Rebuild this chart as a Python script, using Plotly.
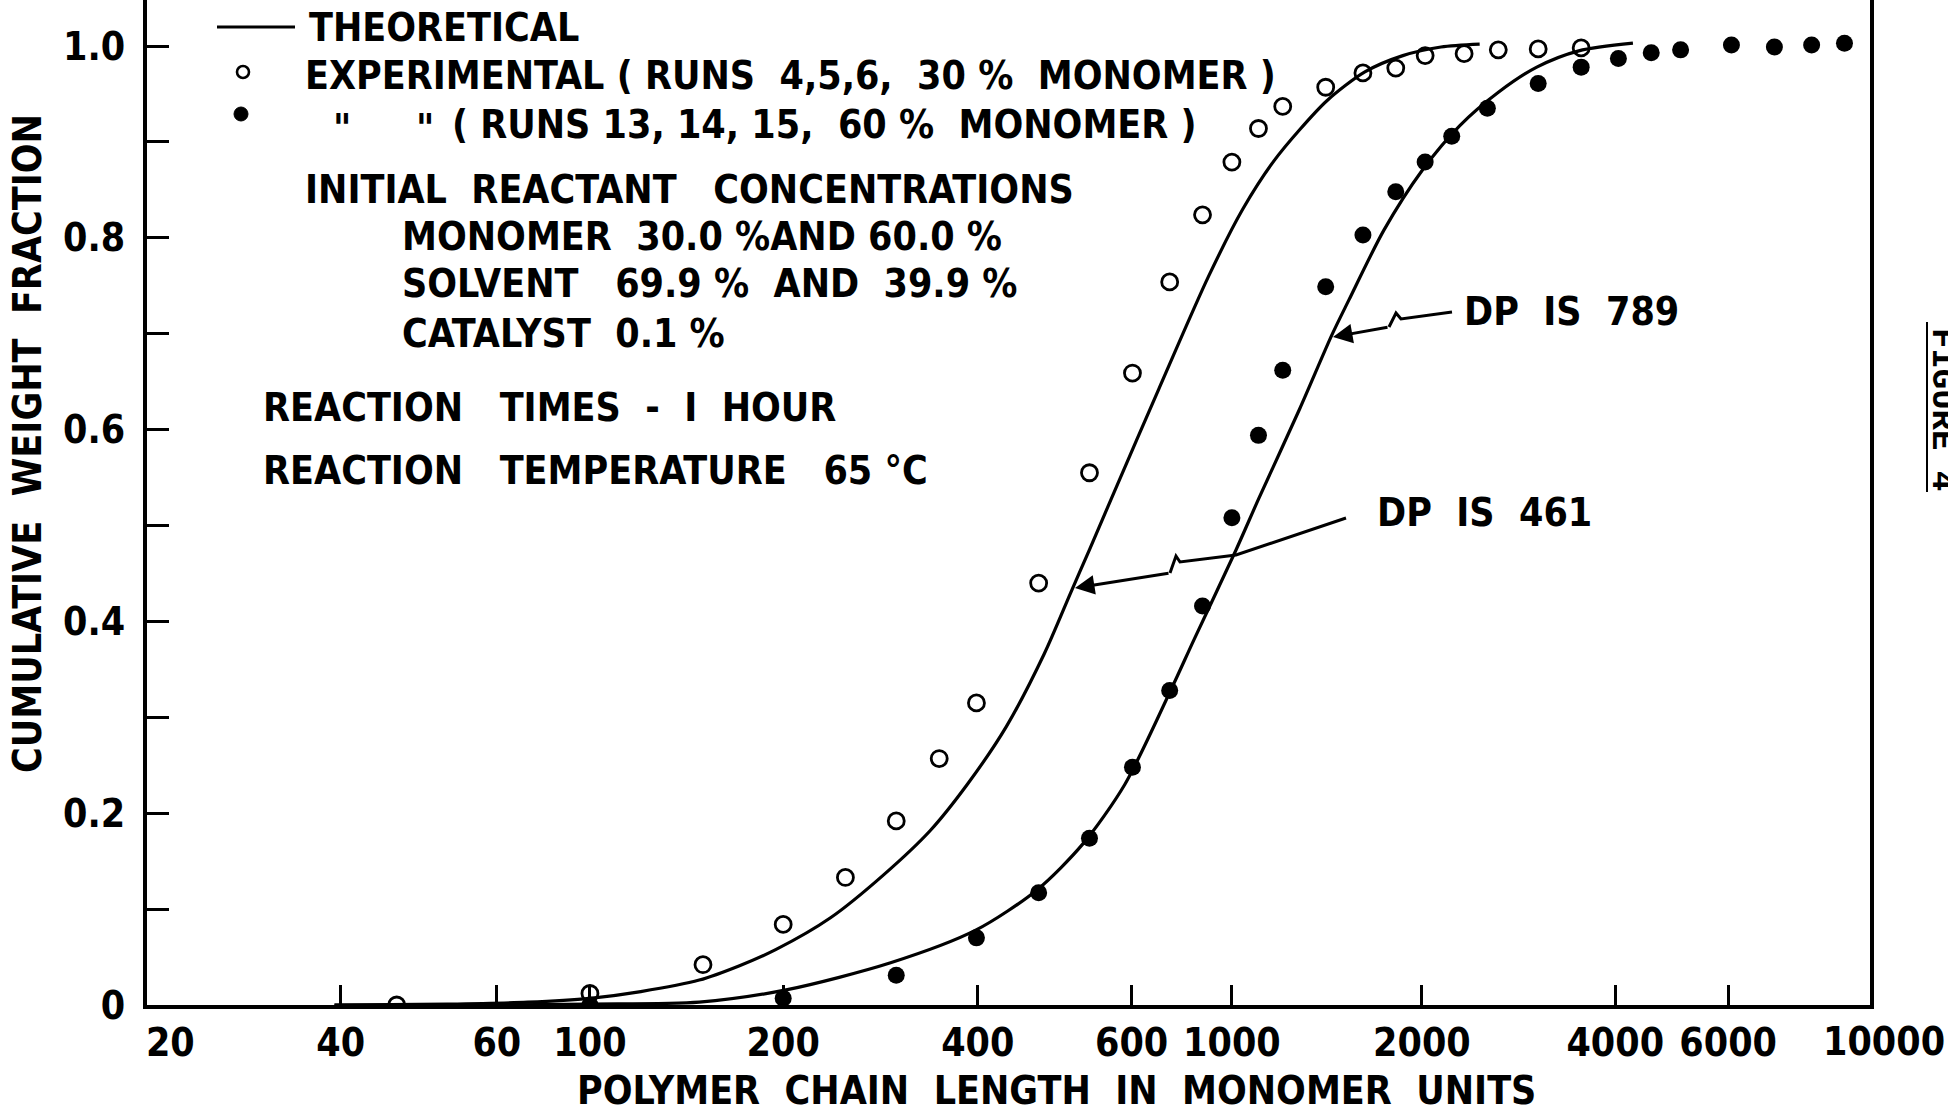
import plotly.graph_objects as go

# ---------------- data ----------------
theo30_x = [40, 60, 80, 100, 120, 148, 171, 195, 237, 287, 339, 388, 445, 510, 561, 601, 648,
            769, 920, 1040, 1162, 1276, 1406, 1611, 1846, 2117, 2432]
theo30_y = [0.0, 0.001, 0.003, 0.007, 0.014, 0.026, 0.041, 0.058, 0.091, 0.136, 0.182, 0.231,
            0.290, 0.366, 0.430, 0.476, 0.527, 0.642, 0.760, 0.830, 0.880, 0.913, 0.943, 0.973,
            0.990, 0.999, 1.002]

theo60_x = [40, 70, 100, 148, 203, 294, 399, 497, 586, 681, 804, 873, 1014, 1101, 1276, 1432,
            1521, 1725, 1977, 2265, 2604, 2985, 3470, 4214]
theo60_y = [0.0, 0.0, 0.001, 0.003, 0.016, 0.044, 0.078, 0.120, 0.168, 0.230, 0.329, 0.381,
            0.474, 0.528, 0.622, 0.699, 0.735, 0.808, 0.870, 0.917, 0.952, 0.978, 0.995, 1.003]

exp30_x = [50, 100, 150, 200, 250, 300, 350, 400, 500, 600, 700, 800, 900, 1000, 1100, 1200,
           1400, 1600, 1800, 2000, 2300, 2600, 3000, 3500]
exp30_y = [0.0, 0.012, 0.042, 0.084, 0.133, 0.192, 0.257, 0.315, 0.440, 0.555, 0.659, 0.754,
           0.824, 0.879, 0.914, 0.937, 0.957, 0.972, 0.977, 0.990, 0.992, 0.996, 0.997, 0.998]

exp60_x = [100, 200, 300, 400, 500, 600, 700, 800, 900, 1000, 1100, 1200, 1400, 1600, 1800,
           2000, 2200, 2500, 3000, 3500, 4000, 4500, 5000, 6000, 7000, 8000, 9000]
exp60_y = [0.0, 0.007, 0.031, 0.070, 0.117, 0.174, 0.248, 0.328, 0.416, 0.508, 0.594, 0.662,
           0.749, 0.803, 0.848, 0.879, 0.906, 0.935, 0.961, 0.978, 0.987, 0.993, 0.996, 1.001,
           0.999, 1.001, 1.003]

# x tick marks / labels where the original (hand-lettered) axis places them
x_tick_marks = [40.9, 71.6, 100, 200, 402, 698, 1000, 1977, 3955, 5930]
x_label_vals = [22.2, 40.9, 71.6, 100, 200, 402, 698, 1000, 1977, 3955, 5930]
x_label_text = ["20", "40", "60", "100", "200", "400", "600", "1000", "2000", "4000", "6000"]
x_last_label = "10000"

y_tick_vals = [0.0, 0.1, 0.2, 0.3, 0.4, 0.5, 0.6, 0.7, 0.8, 0.9, 1.0]
y_tick_text = ["0", "", "0.2", "", "0.4", "", "0.6", "", "0.8", "", "1.0"]

# ---------------- style ----------------
W, H = 1948, 1113
L, R, T, B = 147, 1870, 0, 1005
FONT = "DejaVu Sans Condensed, DejaVu Sans, sans-serif"
FS = 39
BLACK = "#000000"
NB = "\u00a0"


def px(x):
    return (x - L) / (R - L)


def py(y):
    return (B - y) / (B - T)


def fnt(size=FS):
    return dict(family=FONT, size=size, color=BLACK, weight="bold")


fig = go.Figure()

fig.add_trace(go.Scatter(x=theo30_x, y=theo30_y, mode="lines", name="THEORETICAL",
                         line=dict(color=BLACK, width=3.2, shape="spline", smoothing=0.8),
                         showlegend=False))
fig.add_trace(go.Scatter(x=theo60_x, y=theo60_y, mode="lines", name="THEORETICAL",
                         line=dict(color=BLACK, width=3.2, shape="spline", smoothing=0.8),
                         showlegend=False))
fig.add_trace(go.Scatter(x=exp30_x, y=exp30_y, mode="markers",
                         name="EXPERIMENTAL (RUNS 4,5,6, 30 % MONOMER)",
                         marker=dict(symbol="circle-open", size=16, color=BLACK,
                                     line=dict(width=2.8, color=BLACK)),
                         showlegend=False))
fig.add_trace(go.Scatter(x=exp60_x, y=exp60_y, mode="markers",
                         name="EXPERIMENTAL (RUNS 13,14,15, 60 % MONOMER)",
                         marker=dict(symbol="circle", size=17, color=BLACK),
                         showlegend=False))

annotations = []


def text(x, y, s, size=FS, anchor="left", angle=0):
    annotations.append(dict(x=px(x), y=py(y), xref="paper", yref="paper", text=s,
                            showarrow=False, xanchor=anchor, yanchor="middle",
                            textangle=angle, font=fnt(size)))


# legend block (drawn by hand to match the lettered original)
text(307, 27, "THEORETICAL")
text(303, 75, "EXPERIMENTAL" + NB + "(" + NB + "RUNS" + NB + " 4,5,6," + NB * 2 + "30" + NB + "%" + NB + " MONOMER" + NB + ")")
text(342, 128, "\"", anchor="center")
text(425, 128, "\"", anchor="center")
text(450, 124, "(" + NB + "RUNS" + NB + "13," + NB + "14," + NB + "15," + NB + " 60" + NB + "%" + NB + " MONOMER" + NB + ")")

# notes
text(303, 189, "INITIAL" + NB * 2 + "REACTANT" + NB * 2 + " CONCENTRATIONS")
text(400, 236, "MONOMER" + NB * 2 + "30.0" + NB + "%AND" + NB + "60.0" + NB + "%")
text(400, 284, "SOLVENT" + NB * 2 + " 69.9" + NB + "%" + NB + " AND" + NB * 2 + "39.9" + NB + "%")
text(400, 333, "CATALYST" + NB * 2 + "0.1" + NB + "%")
text(261, 407, "REACTION" + NB * 2 + " TIMES" + NB * 2 + "-" + NB * 2 + "I" + NB * 2 + "HOUR")
text(261, 470, "REACTION" + NB * 2 + " TEMPERATURE" + NB * 2 + " 65" + NB + "°C")
text(1462, 311, "DP" + NB * 2 + "IS" + NB * 2 + "789")
text(1375, 512, "DP" + NB * 2 + "IS" + NB * 2 + "461")

# axis titles
text(1056, 1090, "POLYMER" + NB * 2 + "CHAIN" + NB * 2 + "LENGTH" + NB * 2 + "IN" + NB * 2 + "MONOMER" + NB * 2 + "UNITS",
     anchor="center")
text(27, 444, "CUMULATIVE" + NB * 2 + "WEIGHT" + NB * 2 + "FRACTION", anchor="center", angle=-90)

# last x tick label, which sits beyond the right frame
text(1884, 1041, x_last_label, anchor="center")

# FIGURE 4 side caption
annotations.append(dict(x=px(1942), y=py(410), xref="paper", yref="paper", text="FIGURE 4",
                        showarrow=False, textangle=90, xanchor="center", yanchor="middle",
                        font=dict(family="Liberation Mono, Courier New, monospace", size=34,
                                  color=BLACK)))

# arrow heads
annotations.append(dict(x=px(1333), y=py(337), xref="paper", yref="paper", text="",
                        showarrow=True, ax=56, ay=-10, arrowhead=2, arrowsize=1.3,
                        arrowwidth=3, arrowcolor=BLACK, standoff=0))
annotations.append(dict(x=px(1075), y=py(588), xref="paper", yref="paper", text="",
                        showarrow=True, ax=95, ay=-15, arrowhead=2, arrowsize=1.3,
                        arrowwidth=3, arrowcolor=BLACK, standoff=0))


def path(points):
    return "M " + " L ".join(f"{px(x):.5f},{py(y):.5f}" for x, y in points)


def circle(cx, cy, r, filled, lw):
    return dict(type="circle", xref="paper", yref="paper",
                x0=px(cx - r), x1=px(cx + r), y0=py(cy + r), y1=py(cy - r),
                line=dict(color=BLACK, width=lw),
                fillcolor=BLACK if filled else "white")


shapes = [
    # legend symbols
    dict(type="line", xref="paper", yref="paper", x0=px(217), x1=px(295),
         y0=py(27), y1=py(27), line=dict(color=BLACK, width=3.2)),
    circle(243, 72, 6, False, 2.6),
    circle(241, 114, 7, True, 1),
    # arrow shafts with their zig-zags
    dict(type="path", xref="paper", yref="paper",
         path=path([(1452, 312), (1401, 319), (1396, 313), (1389, 327)]),
         line=dict(color=BLACK, width=3)),
    dict(type="path", xref="paper", yref="paper",
         path=path([(1346, 518), (1236, 555), (1180, 562), (1176, 556), (1170, 573)]),
         line=dict(color=BLACK, width=3)),
    # underline of the side caption
    dict(type="line", xref="paper", yref="paper", x0=px(1927), x1=px(1927),
         y0=py(322), y1=py(492), line=dict(color=BLACK, width=2)),
]

fig.update_layout(
    width=W, height=H, autosize=False,
    margin=dict(l=L, r=W - R, t=T, b=H - B, pad=0),
    paper_bgcolor="white", plot_bgcolor="white",
    font=fnt(),
    showlegend=False,
    annotations=annotations,
    shapes=shapes,
    xaxis=dict(type="log", range=[1.310, 3.994], showgrid=False, zeroline=False,
               showline=True, linewidth=4, linecolor=BLACK, mirror=False,
               tickmode="array", tickvals=x_label_vals, ticktext=x_label_text,
               ticks="", ticklabelstandoff=0,
               minor=dict(tickmode="array", tickvals=x_tick_marks, ticks="inside",
                          ticklen=20, tickwidth=3, tickcolor=BLACK, showgrid=False),
               tickfont=fnt()),
    yaxis=dict(range=[0, 1.048], showgrid=False, zeroline=False,
               showline=True, linewidth=4, linecolor=BLACK, mirror=True,
               tickmode="array", tickvals=y_tick_vals, ticktext=y_tick_text,
               ticks="inside", ticklen=22, tickwidth=3, tickcolor=BLACK,
               ticklabelstandoff=10,
               tickfont=fnt()),
)

fig.write_html("out.html")
